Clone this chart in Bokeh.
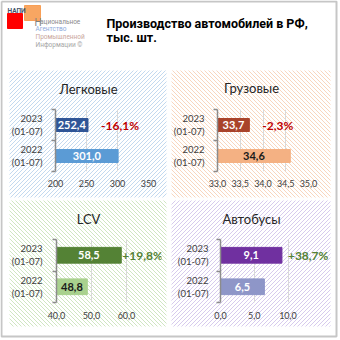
import numpy as np
from bokeh.plotting import figure
from bokeh.models import FixedTicker, Spacer, Range1d, ColumnDataSource
from bokeh.layouts import column, row
from bokeh.embed import file_html
from bokeh.resources import INLINE
from bokeh.core.properties import value

# ---------------- data ----------------
periods = ["2023\n(01-07)", "2022\n(01-07)"]
titles = ["Легковые", "Грузовые", "LCV", "Автобусы"]
cars = [252.4, 301.0]
trucks = [33.7, 34.6]
lcv = [58.5, 48.8]
buses = [9.1, 6.5]
changes = ["-16,1%", "-2,3%", "+19,8%", "+38,7%"]
cars_ticks = [200, 250, 300, 350]
trucks_ticks = [33.0, 33.5, 34.0, 34.5, 35.0]
lcv_ticks = [40.0, 50.0, 60.0]
buses_ticks = [0.0, 5.0, 10.0]
header_title = ["Производство автомобилей в РФ,", "тыс. шт."]
logo_lines = ["ациональное", "Агентство", "Промышленной", "Информации ©"]

FONT = "Lato"
HFONT = "Roboto"
W = H = 340


def fmt(v, dec):
    return f"{v:.{dec}f}".replace(".", ",")


# ---------------- background (frame, header, hatched panels, titles) ----------------
bg = figure(width=W, height=H, x_range=Range1d(0, W), y_range=Range1d(H, 0),
            output_backend="svg", toolbar_location=None,
            x_axis_location=None, y_axis_location=None, min_border=0)
bg.grid.visible = False
bg.outline_line_color = None
bg.background_fill_color = "white"
bg.border_fill_color = "white"


def hatch(L, R, T, B, direction, color, step=4.0):
    xs, ys = [], []
    if direction == "/":
        for c in np.arange(L + T, R + B + step, step):
            x0, x1 = max(L, c - B), min(R, c - T)
            if x1 > x0:
                xs.append([x0, x1]); ys.append([c - x0, c - x1])
    else:
        for c in np.arange(L - B, R - T + step, step):
            x0, x1 = max(L, c + T), min(R, c + B)
            if x1 > x0:
                xs.append([x0, x1]); ys.append([x0 - c, x1 - c])
    bg.multi_line(xs=xs, ys=ys, line_color=color, line_width=1, line_alpha=0.7)


PANELS = [  # left, right, top, bottom of each hatched panel (screen px)
    (9, 166, 70, 197), (171, 330, 70, 197),
    (9, 166, 200, 326), (171, 330, 200, 326),
]
hatch(*PANELS[0], "/", "#a9c9e8")
hatch(*PANELS[1], "\\", "#f5c4a2")
hatch(*PANELS[2], "\\", "#bcdba8")
hatch(*PANELS[3], "/", "#c6b5e6")

# panel titles
bg.text(x=[88, 251, 88, 251], y=[88, 87.5, 218, 218.5], text=titles,
        text_font=value(FONT), text_font_size="13px", text_color="#262626",
        text_align="center", text_baseline="middle")

# outer frame
bg.multi_line(xs=[[1, 336, 336, 1, 1]], ys=[[1, 1, 336, 336, 1]],
              line_color="#c6c6c6", line_width=2)

# logo
bg.quad(left=[7], right=[22], top=[13], bottom=[28], color="#ff0000")
bg.quad(left=[24], right=[40], top=[5], bottom=[20], color="#f79646", alpha=0.85)
bg.text(x=[7], y=[10], text=["НАПИ"], text_font=value(HFONT), text_font_size="6.5px",
        text_font_style="bold", text_color="#44546a", text_baseline="alphabetic")
bg.text(x=[34], y=[21.5], text=["Н"], text_font=value(HFONT), text_font_size="10px",
        text_color="#808080", text_baseline="alphabetic")
logo_colors = ["#8a8a8a", "#8eaadb", "#c9a69c", "#a6a6a6"]
bg.text(x=[39.5, 35, 35, 35], y=[21.5, 28.8, 36.5, 44], text=logo_lines,
        text_font=value(HFONT), text_font_size="6.5px", text_color=logo_colors,
        text_baseline="alphabetic")
# header title
bg.text(x=[106, 106], y=[22.7, 36.7], text=header_title, text_font=value(HFONT),
        text_font_size="12.5px", text_font_style="bold", text_color="black",
        text_baseline="middle")


# ---------------- chart panels ----------------
def panel(w, h, vals, ticks, xend, fl, fr, ft, fb, colors, lab_colors,
          change, change_color, change_off, bar_h, dec, xstand, ystand):
    start = ticks[0]
    p = figure(width=w, height=h, x_range=Range1d(start, xend), y_range=Range1d(0, 2),
               output_backend="svg", toolbar_location=None,
               min_border_left=fl, min_border_right=fr,
               min_border_top=ft, min_border_bottom=fb)
    p.background_fill_alpha = 0
    p.border_fill_alpha = 0
    p.outline_line_color = None

    ys = [1.5, 0.5]
    src = ColumnDataSource(dict(
        y=ys, v=vals, left=[start] * len(vals),
        mid=[(start + v) / 2 for v in vals],
        lab=[fmt(v, 1) for v in vals], color=colors, lc=lab_colors))
    p.hbar(y="y", left="left", right="v", height=bar_h, color="color", source=src)
    p.text(x="mid", y="y", text="lab", text_color="lc", source=src,
           text_align="center", text_baseline="middle",
           text_font=value(FONT), text_font_style="bold", text_font_size="11px")
    p.text(x=[vals[0]], y=[ys[0]], text=[change], x_offset=change_off,
           text_align="left", text_baseline="middle", text_color=change_color,
           text_font=value(FONT), text_font_style="bold", text_font_size="12px")

    p.xaxis.ticker = FixedTicker(ticks=ticks)
    p.xaxis.major_label_overrides = {t: fmt(t, dec) for t in ticks}
    p.xaxis.axis_line_color = None
    p.xaxis.major_tick_line_color = None
    p.xaxis.major_tick_out = 0
    p.xaxis.minor_tick_line_color = None
    p.xaxis.minor_tick_out = 0
    p.xaxis.major_label_standoff = xstand
    p.xaxis.major_label_text_font = FONT
    p.xaxis.major_label_text_font_size = "9px"
    p.xaxis.major_label_text_color = "#404040"
    p.xgrid.ticker = FixedTicker(ticks=ticks)
    p.xgrid.grid_line_color = "#d9d9d9"
    p.ygrid.grid_line_color = None

    p.yaxis.ticker = FixedTicker(ticks=[0.5, 1.5], minor_ticks=[0, 1, 2])
    p.yaxis.major_label_overrides = {ys[i]: periods[i] for i in range(2)}
    p.yaxis.axis_line_color = "#8c8c8c"
    p.yaxis.axis_line_width = 1.5
    p.yaxis.major_tick_line_color = None
    p.yaxis.major_tick_out = 0
    p.yaxis.minor_tick_line_color = "#8c8c8c"
    p.yaxis.minor_tick_line_width = 1.5
    p.yaxis.minor_tick_out = 4
    p.yaxis.minor_tick_in = 0
    p.yaxis.major_label_standoff = ystand
    p.yaxis.major_label_text_align = "center"
    p.yaxis.major_label_text_font = FONT
    p.yaxis.major_label_text_font_size = "9.5px"
    p.yaxis.major_label_text_color = "#404040"
    return p


RED = "#c00000"
GREEN = "#548235"

# figures are transparent and a little wider than the hatched panels;
# negative margins let them overlap
tl = panel(176, 127, cars, cars_ticks, 350, 65, 18, 39, 26,
           ["#2f5597", "#5b9bd5"], ["white", "white"],
           changes[0], RED, 13, 0.42, 0, 8, 9)
tr = panel(180, 127, trucks, trucks_ticks, 35.0, 67, 22, 39, 26,
           ["#a9432b", "#f4b183"], ["white", "#1a1a1a"],
           changes[1], RED, 13, 0.42, 1, 8, 9)
bl = panel(176, 126, lcv, lcv_ticks, 70.0, 66, 5, 39, 24,
           ["#548235", "#a9d18e"], ["white", "#1a1a1a"],
           changes[2], GREEN, 1, 0.5, 1, 9, 10)
br = panel(180, 126, buses, buses_ticks, 16.0, 70, 2, 39, 24,
           ["#7030a0", "#8e96c8"], ["white", "white"],
           changes[3], GREEN, 6, 0.5, 1, 9, 8)
tl.margin = (0, 0, 0, -10)
bl.margin = (0, 0, 0, -10)
tr.margin = (0, 0, 0, -16)
br.margin = (0, 0, 0, -16)

fg = column(
    Spacer(width=W, height=70),
    row(tl, tr),
    Spacer(width=W, height=3),
    row(bl, br),
    margin=(-H, 0, 0, 0),
)

root = column(bg, fg)
open("out.html", "w").write(file_html(root, INLINE))
